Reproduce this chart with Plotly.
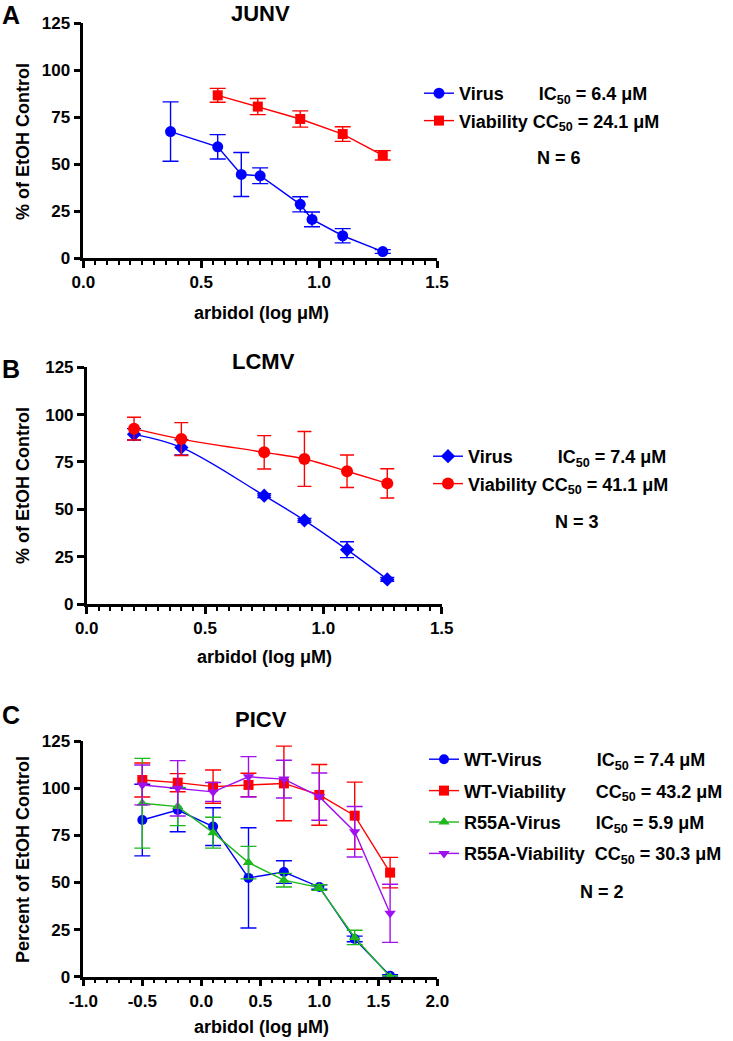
import plotly.graph_objects as go

# Panel A - JUNV
a_virus_x = [0.37, 0.57, 0.67, 0.75, 0.92, 0.97, 1.10, 1.27]
a_virus_y = [67.4, 59.3, 44.6, 43.9, 28.7, 20.7, 12.0, 3.6]
a_virus_err = [15.8, 6.5, 11.7, 4.2, 4.0, 3.9, 3.8, 1.0]
a_via_x = [0.57, 0.74, 0.92, 1.10, 1.27]
a_via_y = [86.7, 80.7, 74.1, 66.1, 54.8]
a_via_err = [3.7, 4.3, 4.3, 3.9, 2.5]

# Panel B - LCMV
b_x = [0.20, 0.40, 0.75, 0.92, 1.10, 1.27]
b_virus_y = [89.6, 82.7, 57.2, 44.2, 28.7, 13.0]
b_virus_err = [3.0, 4.0, 1.0, 1.0, 4.2, 1.0]
b_via_y = [92.6, 87.1, 80.1, 76.6, 70.1, 63.7]
b_via_err = [6.0, 8.7, 8.8, 14.5, 8.6, 7.7]

# Panel C - PICV
c_x = [-0.5, -0.2, 0.1, 0.4, 0.7, 1.0, 1.3, 1.6]
c_wt_virus = [83.1, 88.4, 79.6, 52.4, 55.5, 47.6, 20.0, 0.5]
c_wt_virus_err = [19.0, 11.5, 10.0, 26.6, 6.0, 1.2, 1.5, 0.5]
c_wt_via = [104.3, 102.9, 100.8, 101.7, 102.5, 96.4, 85.4, 55.2]
c_wt_via_err = [9.0, 4.8, 8.8, 6.2, 19.8, 16.1, 17.8, 8.1]
c_r55a_virus = [92.0, 90.2, 76.4, 60.5, 51.2, 47.3, 20.8, 0.0]
c_r55a_virus_err = [23.8, 10.1, 8.2, 8.6, 3.6, 1.5, 3.8, 0.5]
c_r55a_via = [101.7, 99.9, 98.0, 106.0, 104.8, 95.5, 76.9, 33.6]
c_r55a_via_err = [10.6, 14.7, 5.0, 10.7, 10.0, 12.5, 13.4, 15.4]

# ticks
y_ticks = [0, 25, 50, 75, 100, 125]
x_ticks_ab = [0.0, 0.5, 1.0, 1.5]
x_labels_ab = ["0.0", "0.5", "1.0", "1.5"]
x_ticks_c = [-1.0, -0.5, 0.0, 0.5, 1.0, 1.5, 2.0]
x_labels_c = ["-1.0", "-0.5", "0.0", "0.5", "1.0", "1.5", "2.0"]

BLUE = "#0000FF"
RED = "#FF0000"
GREEN = "#1DB81D"
PURPLE = "#A010EE"
FONT = "Liberation Sans, Arial, sans-serif"
W, H = 733, 1041
NB = "\u00a0"


def px(x):
    return x / W


def py(y):
    return 1 - y / H


def series(x, y, err, color, symbol, size, name, xa, ya, leg, shape="linear", cap=8):
    return go.Scatter(
        x=x, y=y, name=name, mode="lines+markers", legendgroup=name,
        xaxis=xa, yaxis=ya, legend=leg, cliponaxis=False,
        line=dict(color=color, width=1.4, shape=shape),
        marker=dict(color=color, symbol=symbol, size=size),
        error_y=dict(type="data", array=err, color=color, thickness=1.4, width=cap),
    )


fig = go.Figure()

fig.add_trace(series(a_virus_x, a_virus_y, a_virus_err, BLUE, "circle", 11,
                     "Virus" + NB * 7 + "IC<sub>50</sub> = 6.4 μM", "x", "y", "legend"))
fig.add_trace(series(a_via_x, a_via_y, a_via_err, RED, "square", 10,
                     "Viability" + NB + "CC<sub>50</sub> = 24.1 μM", "x", "y", "legend"))

fig.add_trace(series(b_x, b_virus_y, b_virus_err, BLUE, "diamond", 11,
                     "Virus" + NB * 9 + "IC<sub>50</sub> = 7.4 μM", "x2", "y2", "legend2",
                     shape="spline", cap=7))
fig.add_trace(series(b_x, b_via_y, b_via_err, RED, "circle", 12,
                     "Viability" + NB + "CC<sub>50</sub> = 41.1 μM", "x2", "y2", "legend2",
                     shape="spline", cap=7))

fig.add_trace(series(c_x, c_wt_virus, c_wt_virus_err, BLUE, "circle", 10,
                     "WT-Virus" + NB * 11 + "IC<sub>50</sub> = 7.4 μM", "x3", "y3", "legend3"))
fig.add_trace(series(c_x, c_wt_via, c_wt_via_err, RED, "square", 10,
                     "WT-Viability" + NB * 6 + "CC<sub>50</sub> = 43.2 μM", "x3", "y3", "legend3"))
fig.add_trace(series(c_x, c_r55a_virus, c_r55a_virus_err, GREEN, "triangle-up", 10,
                     "R55A-Virus" + NB * 7 + "IC<sub>50</sub> = 5.9 μM", "x3", "y3", "legend3"))
fig.add_trace(series(c_x, c_r55a_via, c_r55a_via_err, PURPLE, "triangle-down", 10,
                     "R55A-Viability" + NB * 2 + "CC<sub>50</sub> = 30.3 μM", "x3", "y3", "legend3"))

axis_style = dict(
    showline=True, linewidth=2.5, linecolor="black", showgrid=False, zeroline=False,
    ticks="outside", ticklen=7, tickwidth=2.5, tickcolor="black", automargin=False,
    tickfont=dict(family=FONT, size=17, color="black", weight="bold"),
)
minor_ab = dict(dtick=0.05, ticks="outside", ticklen=4, tickwidth=2, tickcolor="black")
minor_c = dict(dtick=0.1, ticks="outside", ticklen=4, tickwidth=2, tickcolor="black")

fig.update_layout(
    xaxis=dict(domain=[px(83.3), px(437)], range=[0, 1.5], anchor="y",
               tickvals=x_ticks_ab, ticktext=x_labels_ab, minor=minor_ab, **axis_style),
    yaxis=dict(domain=[py(258.3), py(23.3)], range=[0, 125], anchor="x",
               tickvals=y_ticks, **axis_style),
    xaxis2=dict(domain=[px(86.7), px(441.7)], range=[0, 1.5], anchor="y2",
                tickvals=x_ticks_ab, ticktext=x_labels_ab, minor=minor_ab, **axis_style),
    yaxis2=dict(domain=[py(604), py(367.3)], range=[0, 125], anchor="x2",
                tickvals=y_ticks, **axis_style),
    xaxis3=dict(domain=[px(83.3), px(437.3)], range=[-1, 2], anchor="y3",
                tickvals=x_ticks_c, ticktext=x_labels_c, minor=minor_c, **axis_style),
    yaxis3=dict(domain=[py(976.7), py(741)], range=[0, 125], anchor="x3",
                tickvals=y_ticks, **axis_style),
)

leg_font = dict(family=FONT, size=18, color="black", weight="bold")
fig.update_layout(
    legend=dict(x=px(419), y=py(75), xanchor="left", yanchor="top", font=leg_font,
                bgcolor="rgba(0,0,0,0)", tracegroupgap=1),
    legend2=dict(x=px(428), y=py(438), xanchor="left", yanchor="top", font=leg_font,
                 bgcolor="rgba(0,0,0,0)", tracegroupgap=1),
    legend3=dict(x=px(424), y=py(741), xanchor="left", yanchor="top", font=leg_font,
                 bgcolor="rgba(0,0,0,0)", tracegroupgap=5),
)

# panel letters (top-anchored so nothing pokes above the page)
letters = [("A", 0), ("B", 354), ("C", 700)]
for t, y in letters:
    fig.add_annotation(text=t, x=px(11), y=py(y), xref="paper", yref="paper",
                       xanchor="center", yanchor="top", showarrow=False, borderpad=0,
                       font=dict(family=FONT, size=25, color="black", weight="bold"))

# titles, axis titles and N labels
texts = [
    ("JUNV", 260, 14, 22, 0), ("LCMV", 263, 362, 22, 0), ("PICV", 261, 719, 22, 0),
    ("arbidol (log μM)", 261, 313, 18, 0), ("arbidol (log μM)", 264, 657, 18, 0),
    ("arbidol (log μM)", 261, 1027, 18, 0),
    ("% of EtOH Control", 23, 142, 18, -90), ("% of EtOH Control", 23, 486, 18, -90),
    ("Percent of EtOH Control", 23, 860, 18, -90),
    ("N = 6", 559, 158, 18, 0), ("N = 3", 577, 522, 18, 0), ("N = 2", 602, 892, 18, 0),
]
for t, x, y, s, ang in texts:
    fig.add_annotation(text=t, x=px(x), y=py(y), xref="paper", yref="paper",
                       xanchor="center", yanchor="middle", showarrow=False, textangle=ang,
                       font=dict(family=FONT, size=s, color="black", weight="bold"))

fig.update_layout(
    width=W, height=H, margin=dict(l=0, r=0, t=0, b=0, autoexpand=False),
    paper_bgcolor="white", plot_bgcolor="white",
    font=dict(family=FONT, color="black"),
)

# drop the page's default body margin so the figure sits at the window's corner
fig.write_html("out.html", config={"displayModeBar": False},
               post_script="document.body.style.margin = '0px';")
